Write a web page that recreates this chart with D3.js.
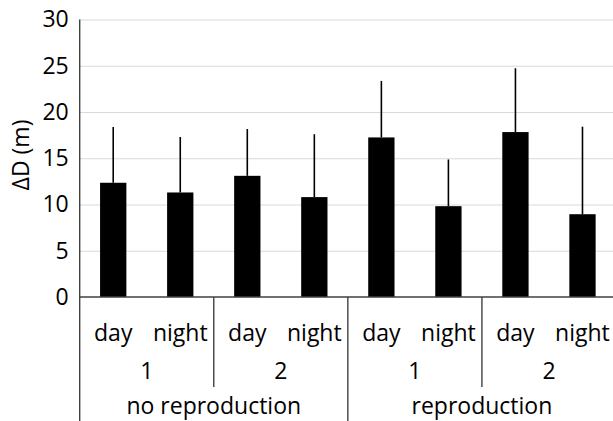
<!DOCTYPE html>
<html>
<head>
<meta charset="UTF-8">
<script src="https://d3js.org/d3.v7.min.js"></script>
<style>
  body { margin: 0; background: #fff; }
  svg { display: block; font-family: "Open Sans", sans-serif; }
</style>
</head>
<body>
<svg id="chart" width="613" height="421"></svg>
<script>
// data
var times = ["day", "night", "day", "night", "day", "night", "day", "night"];
var sites = ["1", "2", "1", "2"];
var groups = ["no reproduction", "reproduction"];
var meanD = [12.35, 11.3, 13.1, 10.8, 17.25, 9.82, 17.83, 8.95];
var sdD = [6.03, 6.0, 5.06, 6.8, 6.11, 5.05, 6.9, 9.46];
var yTicks = [0, 5, 10, 15, 20, 25, 30];

var svg = d3.select("#chart");
var plotL = 79.7, plotR = 616, plotT = 19.5, base = 297;
var fs = 23;

var x = d3.scaleBand().domain(d3.range(times.length)).range([plotL, plotR]);
var y = d3.scaleLinear().domain([0, 30]).range([base, plotT]);
var step = x.bandwidth();
var barW = 26.3;

// gridlines
svg.append("g").attr("transform", "translate(" + plotL + ",0)")
  .call(d3.axisLeft(y).tickValues(yTicks.slice(1)).tickSize(-(plotR - plotL)).tickFormat(""))
  .call(function(g) {
    g.select(".domain").remove();
    g.selectAll("line").attr("stroke", "#d9d9d9").attr("stroke-width", 1.2);
  });

// y labels
svg.append("g").attr("transform", "translate(" + plotL + ",0)")
  .call(d3.axisLeft(y).tickValues(yTicks).tickSize(0).tickPadding(11))
  .call(function(g) {
    g.select(".domain").remove();
    g.selectAll("text").attr("font-size", fs).attr("font-family", "Open Sans").attr("fill", "#000");
  });

// bars
svg.selectAll("rect.bar").data(meanD).enter().append("rect")
  .attr("x", function(d, i) { return x(i) + step / 2 - barW / 2; })
  .attr("y", function(d) { return y(d); })
  .attr("width", barW)
  .attr("height", function(d) { return base - y(d); })
  .attr("fill", "#000");

// error bars (upper only)
svg.selectAll("line.err").data(meanD).enter().append("line")
  .attr("x1", function(d, i) { return x(i) + step / 2; })
  .attr("x2", function(d, i) { return x(i) + step / 2; })
  .attr("y1", function(d) { return y(d); })
  .attr("y2", function(d, i) { return y(d + sdD[i]); })
  .attr("stroke", "#000").attr("stroke-width", 1.6);

// axes lines
var axisCol = "#404040";
svg.append("line").attr("x1", plotL).attr("x2", plotL).attr("y1", plotT).attr("y2", 421)
  .attr("stroke", axisCol).attr("stroke-width", 1.4);
svg.append("line").attr("x1", plotL).attr("x2", plotR).attr("y1", base).attr("y2", base)
  .attr("stroke", axisCol).attr("stroke-width", 1.4);

// category labels, level 1
svg.selectAll("text.time").data(times).enter().append("text")
  .attr("x", function(d, i) { return x(i) + step / 2; })
  .attr("y", 340.7)
  .attr("text-anchor", "middle").attr("font-size", fs)
  .text(function(d) { return d; });

// level 2
sites.forEach(function(s, j) {
  var x0 = x(j * 2), x1 = x(j * 2 + 1) + step;
  svg.append("text").attr("x", (x0 + x1) / 2).attr("y", 379.3)
    .attr("text-anchor", "middle").attr("font-size", fs).text(s);
  if (j % 2 == 0) {
    svg.append("line").attr("x1", x1).attr("x2", x1).attr("y1", base).attr("y2", 387)
      .attr("stroke", axisCol).attr("stroke-width", 1.4);
  }
});

// level 3
groups.forEach(function(g, k) {
  var x0 = x(k * 4), x1 = x(k * 4 + 3) + step;
  svg.append("text").attr("x", (x0 + x1) / 2).attr("y", 414)
    .attr("text-anchor", "middle").attr("font-size", fs).text(g);
  svg.append("line").attr("x1", x1).attr("x2", x1).attr("y1", base).attr("y2", 421)
    .attr("stroke", axisCol).attr("stroke-width", 1.4);
});

// y title
svg.append("text")
  .attr("transform", "translate(29,155) rotate(-90)")
  .attr("text-anchor", "middle").attr("font-size", fs)
  .text("ΔD (m)");
</script>
</body>
</html>
